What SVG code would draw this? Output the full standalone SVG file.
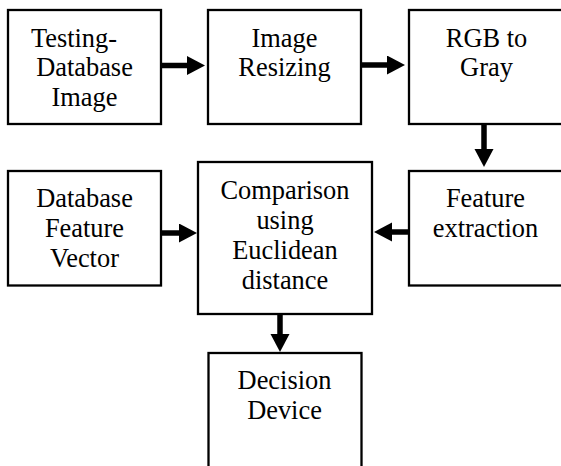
<svg xmlns="http://www.w3.org/2000/svg" width="561" height="466" viewBox="0 0 561 466">
<style>
.box{fill:#fff;stroke:#000;stroke-width:2.3}
.lbl{font-family:"Liberation Serif","Times New Roman",serif;font-size:26.4px;fill:#000;text-anchor:middle}
.arr{stroke:#000;stroke-width:5.5;fill:none;marker-end:url(#ah)}
</style>
<defs>
<marker id="ah" markerUnits="userSpaceOnUse" markerWidth="20" markerHeight="20" refX="1" refY="9.5" orient="auto" viewBox="0 0 20 20">
<path d="M0,0 L18,9.5 L0,19 z" fill="#000"/>
</marker>
</defs>
<rect width="561" height="466" fill="#fff"/>
<g id="connectors">
<line class="arr" x1="162" y1="65.5" x2="188" y2="65.5"/>
<line class="arr" x1="362" y1="65" x2="388" y2="65"/>
<line class="arr" x1="484" y1="124" x2="484" y2="150"/>
<line class="arr" x1="162" y1="233" x2="180" y2="233"/>
<line class="arr" x1="409" y1="232" x2="391" y2="232"/>
<line class="arr" x1="280" y1="314" x2="280" y2="335"/>
</g>
<g id="testing-db-image">
<rect class="box" x="8" y="10" width="153" height="114"/>
<text class="lbl"><tspan x="74" y="46.5">Testing-</tspan><tspan x="84.5" y="76">Database</tspan><tspan x="84.5" y="105.5">Image</tspan></text>
</g>
<g id="image-resizing">
<rect class="box" x="208" y="10" width="153" height="114"/>
<text class="lbl"><tspan x="284.5" y="46.5">Image</tspan><tspan x="284.5" y="76">Resizing</tspan></text>
</g>
<g id="rgb-to-gray">
<rect class="box" x="409" y="10" width="200" height="114"/>
<text class="lbl"><tspan x="486.5" y="46.5">RGB to</tspan><tspan x="486.5" y="76">Gray</tspan></text>
</g>
<g id="feature-extraction">
<rect class="box" x="409" y="171" width="200" height="114.5"/>
<text class="lbl"><tspan x="485.5" y="207">Feature</tspan><tspan x="485.5" y="237">extraction</tspan></text>
</g>
<g id="database-feature-vector">
<rect class="box" x="8" y="171" width="153" height="114.5"/>
<text class="lbl"><tspan x="84.5" y="207">Database</tspan><tspan x="84.5" y="237">Feature</tspan><tspan x="84.5" y="266.5">Vector</tspan></text>
</g>
<g id="comparison">
<rect class="box" x="198" y="162" width="174" height="152"/>
<text class="lbl"><tspan x="285" y="198.5">Comparison</tspan><tspan x="285" y="228.5">using</tspan><tspan x="285" y="259">Euclidean</tspan><tspan x="285" y="289">distance</tspan></text>
</g>
<g id="decision-device">
<rect class="box" x="208.5" y="353" width="153" height="140"/>
<text class="lbl"><tspan x="284.5" y="389">Decision</tspan><tspan x="284.5" y="419">Device</tspan></text>
</g>
</svg>
